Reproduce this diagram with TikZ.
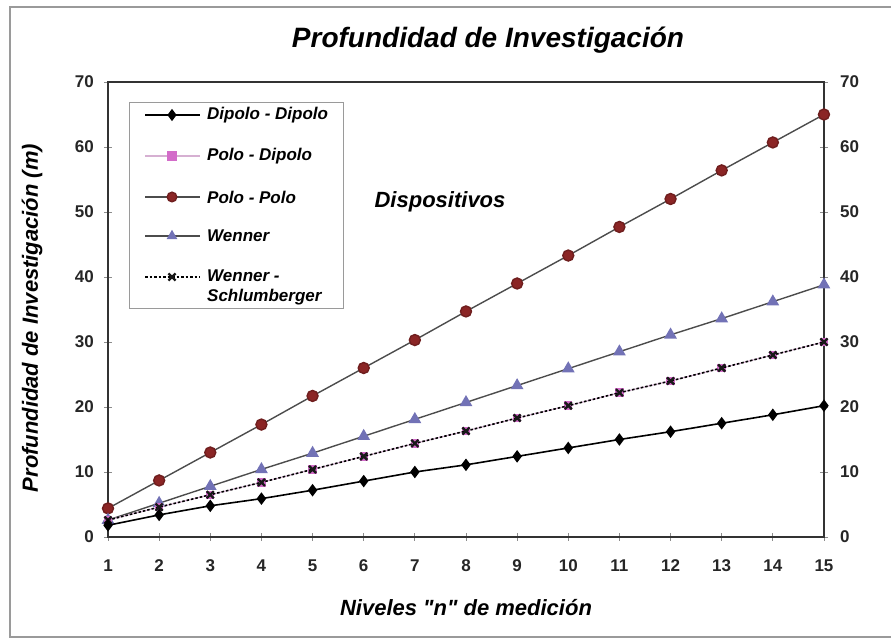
\documentclass[tikz,border=0pt]{standalone}
\usepackage{fontspec}
\setmainfont{Liberation Sans}[Ligatures=TeXOff]
\usetikzlibrary{plotmarks}

\definecolor{rojopp}{HTML}{8B2525}
\definecolor{azulw}{HTML}{7272B6}
\definecolor{rosapd}{HTML}{D36CC9}
\definecolor{gris}{HTML}{9A9A9A}

\begin{document}
\begin{tikzpicture}[
    x=1pt, y=1pt,
    marco/.style={draw=gris, line width=1.2pt},
    eje/.style={draw=black!80, line width=1.4pt},
    marca/.style={draw=black!45, line width=0.8pt},
    num/.style={font=\fontsize{17}{20}\selectfont\bfseries, text=black!85, inner sep=0pt},
    rotulo/.style={font=\fontsize{22}{26}\selectfont\bfseries\itshape, inner sep=0pt},
    leyenda/.style={font=\fontsize{17}{20}\selectfont\bfseries\itshape, inner sep=0pt, anchor=west, align=left},
    dd/.style={line width=1.6pt, black, mark=diamond*, mark size=5pt, mark options={solid, draw=black, fill=black}},
    pd/.style={line width=1.2pt, draw={rgb,255:red,214;green,176;blue,210}, mark=square*, mark size=3.6pt, mark options={solid, draw=rosapd, fill=rosapd}},
    pp/.style={line width=1.4pt, draw=black!70, mark=*, mark size=5.5pt, mark options={solid, draw=rojopp!80!black, fill=rojopp}},
    w/.style={line width=1.4pt, draw=black!70, mark=triangle*, mark size=6pt, mark options={solid, draw=azulw, fill=azulw}},
    ws/.style={line width=1.6pt, black, dash pattern=on 2.5pt off 2pt, mark=x, mark size=5pt, mark options={solid, line width=2.4pt, draw=black!90}}
]

\useasboundingbox (0,0) rectangle (891,639);

% Marco exterior
\draw[marco] (10,2) rectangle (900,632);

% Titulo
\node[font=\fontsize{28}{32}\selectfont\bfseries\itshape] (titulo) at (488,599) {Profundidad de Investigación};

% Rotulos de los ejes
\node[rotulo, rotate=90] (tituloy) at (32,321) {Profundidad de Investigación (m)};
\node[rotulo] (titulox) at (466,31) {Niveles "n" de medición};

\begin{scope}[x=51.14pt, y=6.5pt, shift={(56.86pt,102pt)}]

% Marcas y numeros
\foreach \v in {0,10,...,70} {
    \draw[marca] ([xshift=-4pt]1,\v) -- ([xshift=4pt]1,\v);
    \draw[marca] ([xshift=-4pt]15,\v) -- ([xshift=4pt]15,\v);
    \node[num, anchor=east, xshift=-14pt] (izq\v) at (1,\v) {\v};
    \node[num, anchor=west, xshift=16pt] (der\v) at (15,\v) {\v};
}
\foreach \n in {1,...,15} {
    \draw[marca] ([yshift=-4pt]\n,0) -- ([yshift=4pt]\n,0);
    \node[num, yshift=-29pt] (abajo\n) at (\n,0) {\n};
}

% Area del grafico
\draw[eje] (1,0) rectangle (15,70);

% Series
\draw[pp] plot coordinates {(1,4.4) (2,8.7) (3,13.0) (4,17.3) (5,21.7) (6,26.0) (7,30.3) (8,34.7) (9,39.0) (10,43.3) (11,47.7) (12,52.0) (13,56.4) (14,60.7) (15,65.0)};
\draw[w] plot coordinates {(1,2.6) (2,5.2) (3,7.8) (4,10.4) (5,12.9) (6,15.5) (7,18.1) (8,20.7) (9,23.3) (10,25.9) (11,28.5) (12,31.1) (13,33.6) (14,36.2) (15,38.8)};
\draw[pd] plot coordinates {(1,2.6) (2,4.6) (3,6.5) (4,8.4) (5,10.4) (6,12.4) (7,14.4) (8,16.3) (9,18.3) (10,20.2) (11,22.2) (12,24.0) (13,26.0) (14,28.0) (15,30.0)};
\draw[ws] plot coordinates {(1,2.6) (2,4.6) (3,6.5) (4,8.4) (5,10.4) (6,12.4) (7,14.4) (8,16.3) (9,18.3) (10,20.2) (11,22.2) (12,24.0) (13,26.0) (14,28.0) (15,30.0)};
\draw[dd] plot coordinates {(1,1.8) (2,3.4) (3,4.8) (4,5.9) (5,7.2) (6,8.6) (7,10.0) (8,11.1) (9,12.4) (10,13.7) (11,15.0) (12,16.2) (13,17.5) (14,18.8) (15,20.2)};

\end{scope}

% Leyenda
\draw[marco, line width=1pt] (129,330) rectangle (343,536);
\foreach \y/\serie/\texto in {524/dd/{Dipolo - Dipolo}, 483/pd/{Polo - Dipolo}, 442/pp/{Polo - Polo}, 403/w/{Wenner}} {
    \draw[\serie] (145,\y) -- (200,\y);
    \draw[\serie, mark size=4.8pt] plot[only marks] coordinates {(172,\y)};
    \node[leyenda] (ley\serie) at (207,\y) {\texto};
}
\draw[ws] (145,362) -- (200,362);
\draw[ws] plot[only marks] coordinates {(172,362)};
\node[leyenda] (leyws) at (207,352) {Wenner -\\Schlumberger};

% Texto interior
\node[rotulo] (dispositivos) at (440,437) {Dispositivos};

\end{tikzpicture}
\end{document}
